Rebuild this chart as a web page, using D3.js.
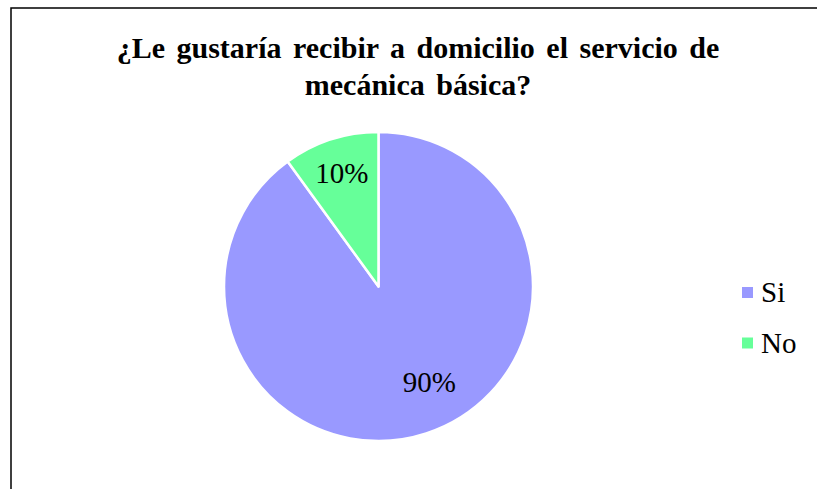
<!DOCTYPE html>
<html><head><meta charset="utf-8">
<script src="https://cdn.jsdelivr.net/npm/d3@7"></script>
<style>html,body{margin:0;padding:0;background:#fff;overflow:hidden} svg text{font-family:'Liberation Serif';}</style>
</head><body>
<svg id="c" width="817" height="489"></svg>
<script>
const categories = ["Si", "No"];
const values = [90, 10];
const colors = ["#9999FF", "#66FF99"];
const titleLines = ["¿Le gustaría recibir a domicilio el servicio de", "mecánica básica?"];

const svg = d3.select("#c");
svg.append("rect").attr("x", 11).attr("y", 8).attr("width", 830).attr("height", 500)
  .attr("fill", "#fff").attr("stroke", "#000").attr("stroke-width", 1.5);

svg.append("g").selectAll("text").data(titleLines).join("text")
  .attr("x", 418).attr("y", (d, i) => 58 + i * 37)
  .attr("text-anchor", "middle")
  .style("word-spacing", "4px")
  .attr("font-weight", "bold").attr("font-size", 30)
  .text(d => d);

const cx = 378.5, cy = 286.5, r = 154.5;
const pie = d3.pie().sort(null).value(d => d)(values);
const arc = d3.arc().innerRadius(0).outerRadius(r);
const g = svg.append("g").attr("transform", `translate(${cx},${cy})`);
g.selectAll("path").data(pie).join("path")
  .attr("d", arc).attr("fill", (d, i) => colors[i])
  .attr("stroke", "#fff").attr("stroke-width", 2.5).attr("stroke-linejoin", "round");

// label placement (layout, not data): radius fraction and angular nudge per slice
const labelLayout = [{ k: 0.70, nudge: -10 }, { k: 0.77, nudge: 0 }];
const total = d3.sum(values);
g.selectAll("text").data(pie).join("text")
  .attr("transform", (d, i) => {
    const L = labelLayout[i];
    const a = (d.startAngle + d.endAngle) / 2 + L.nudge * Math.PI / 180;
    const rr = r * L.k;
    return `translate(${rr * Math.sin(a)},${-rr * Math.cos(a)})`;
  })
  .attr("text-anchor", "middle").attr("dy", "0.33em")
  .attr("font-size", 29)
  .text(d => Math.round(d.value / total * 100) + "%");

const leg = svg.append("g");
const ly = d3.scalePoint().domain(categories).range([292.5, 343]);
leg.selectAll("rect").data(categories).join("rect")
  .attr("x", 742).attr("y", d => ly(d) - 5.5).attr("width", 11).attr("height", 11)
  .attr("fill", (d, i) => colors[i]);
leg.selectAll("text").data(categories).join("text")
  .attr("x", 761).attr("y", d => ly(d)).attr("dy", "0.33em")
  .attr("font-size", 29)
  .text(d => d);
</script>
</body></html>
